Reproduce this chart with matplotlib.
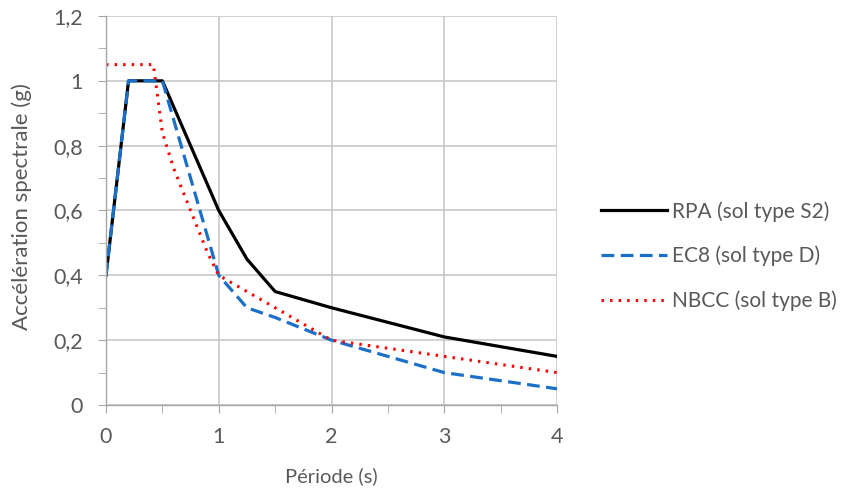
import matplotlib
matplotlib.use("Agg")
import matplotlib.pyplot as plt
from matplotlib.ticker import MultipleLocator, FuncFormatter

rpa_t = [0, 0.2, 0.5, 1.0, 1.25, 1.5, 2.0, 3.0, 4.0]
rpa_a = [0.40, 1.00, 1.00, 0.60, 0.45, 0.35, 0.30, 0.21, 0.15]

ec8_t = [0, 0.2, 0.5, 1.0, 1.25, 1.5, 2.0, 3.0, 4.0]
ec8_a = [0.40, 1.00, 1.00, 0.40, 0.30, 0.27, 0.20, 0.10, 0.05]

nbcc_t = [0, 0.42, 0.5, 0.6, 0.75, 0.9, 1.0, 2.0, 3.0, 4.0]
nbcc_a = [1.05, 1.05, 0.84, 0.73, 0.60, 0.47, 0.40, 0.20, 0.15, 0.10]

labels = ["RPA (sol type S2)", "EC8 (sol type D)", "NBCC (sol type B)"]

plt.rcParams['font.family'] = ['Lato', 'DejaVu Sans']
txt = '#595959'
grid = '#c8c8c8'
fs = 15.5

fig = plt.figure(figsize=(8.44, 4.88), dpi=100)
ax = fig.add_axes([106/844, 1-405/488, (557-106)/844, (405-16)/488])

ax.plot(rpa_t, rpa_a, color='black', lw=2.3, label=labels[0])
ax.plot(ec8_t, ec8_a, color='#1a6fc9', lw=2.3, ls=(0, (4, 2)), label=labels[1])
ax.plot(nbcc_t, nbcc_a, color='#ff0000', lw=2.2, ls=(0, (0.8, 2.0)), label=labels[2])

ax.set_xlim(0, 4)
ax.set_ylim(0, 1.2)
ax.xaxis.set_major_locator(MultipleLocator(1))
ax.xaxis.set_minor_locator(MultipleLocator(0.5))
ax.yaxis.set_major_locator(MultipleLocator(0.2))
ax.yaxis.set_minor_locator(MultipleLocator(0.1))
ax.yaxis.set_major_formatter(FuncFormatter(lambda v, p: ('%g' % round(v, 1)).replace('.', ',')))
ax.grid(True, which='major', color=grid, lw=1.2)
ax.set_axisbelow(True)

for s in ['top', 'right']:
    ax.spines[s].set_visible(False)
for s in ['left', 'bottom']:
    ax.spines[s].set_color('#a6a6a6')
    ax.spines[s].set_linewidth(1.0)

ax.tick_params(which='both', direction='out', color='#a6a6a6', labelcolor=txt, labelsize=fs)
ax.tick_params(which='major', length=6)
ax.tick_params(which='minor', length=6)
ax.tick_params(axis='x', pad=10)
ax.tick_params(axis='y', pad=10.5)

ax.set_xlabel('Période (s)', color=txt, fontsize=14.5)
ax.set_ylabel('Accélération spectrale (g)', color=txt, fontsize=16)
ax.yaxis.set_label_coords(-0.165, 0.51)
ax.xaxis.set_label_coords(0.5, -0.16)

leg = ax.legend(loc='center left', bbox_to_anchor=(582/844, 1-256/488), bbox_transform=fig.transFigure,
                frameon=False, fontsize=15, handlelength=3.2, labelspacing=1.15, handletextpad=0.2)
for t in leg.get_texts():
    t.set_color(txt)

fig.savefig('out.png', dpi=100)
